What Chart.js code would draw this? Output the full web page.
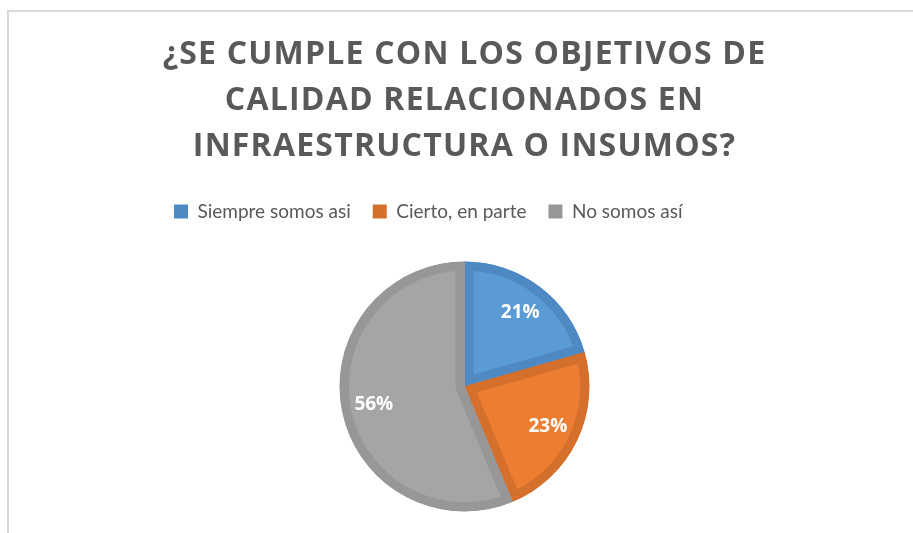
<!DOCTYPE html>
<html>
<head>
<meta charset="utf-8">
<script src="https://cdn.jsdelivr.net/npm/chart.js@4"></script>
<style>
  html, body { margin: 0; padding: 0; background: #fff; }
  #wrap { width: 913px; height: 533px; position: relative; }
</style>
</head>
<body>
<div id="wrap"><canvas id="c" width="913" height="533"></canvas></div>
<script>
// ---- data ----
const titleLines = ['¿SE CUMPLE CON LOS OBJETIVOS DE', 'CALIDAD RELACIONADOS EN', 'INFRAESTRUCTURA O INSUMOS?'];
const categories = ['Siempre somos asi', 'Cierto, en parte', 'No somos así'];
const shares = [20.6, 23.1, 56.3];

const fillColors = ['#5b9bd5', '#ed7d31', '#a5a5a5'];
const edgeColors = ['#4f89c4', '#d4702c', '#979797'];

// white page + the light frame of the chart box
const frame = {
  id: 'frame',
  beforeDraw(chart) {
    const ctx = chart.ctx;
    ctx.save();
    ctx.fillStyle = '#fff';
    ctx.fillRect(0, 0, chart.width, chart.height);
    ctx.fillStyle = '#d9d9d9';
    ctx.fillRect(7, 10, chart.width - 7, 2);
    ctx.fillRect(7, 10, 2, chart.height - 10);
    ctx.restore();
  }
};

// legend sits left of centre and a bit higher in the original,
// and the title is letter-spaced
const tweaks = {
  id: 'tweaks',
  afterLayout(chart) {
    const lg = chart.legend;
    const dx = 174 - lg.options.labels.padding - lg.left;
    lg.left += dx;
    lg.right += dx;
    lg.top -= 17;
    lg.bottom -= 17;

    const tb = chart.titleBlock;
    if (!tb._spaced) {
      const orig = tb.draw.bind(tb);
      tb.draw = function () {
        const ctx = chart.ctx;
        ctx.letterSpacing = '1.2px';
        orig();
        ctx.letterSpacing = '0px';
      };
      tb._spaced = true;
    }
  }
};

// percent labels inside slices
const sliceLabels = {
  id: 'sliceLabels',
  afterDatasetsDraw(chart) {
    const ctx = chart.ctx;
    const meta = chart.getDatasetMeta(0);
    const total = shares.reduce((a, b) => a + b, 0);
    ctx.save();
    ctx.fillStyle = '#fff';
    ctx.font = 'bold 19px "Open Sans"';
    ctx.textAlign = 'center';
    ctx.textBaseline = 'middle';
    meta.data.forEach((arc, i) => {
      const p = arc.getProps(['x', 'y', 'startAngle', 'endAngle', 'outerRadius'], true);
      const mid = (p.startAngle + p.endAngle) / 2;
      const r = p.outerRadius * 0.74;
      const txt = Math.round(shares[i] / total * 100) + '%';
      ctx.fillText(txt, p.x + Math.cos(mid) * r, p.y + Math.sin(mid) * r);
    });
    ctx.restore();
  }
};

new Chart(document.getElementById('c'), {
  type: 'pie',
  data: {
    labels: categories,
    datasets: [{
      data: shares,
      backgroundColor: fillColors,
      borderColor: edgeColors,
      borderWidth: 9,
      borderAlign: 'inner',
      radius: 125,
    }],
  },
  options: {
    responsive: false,
    animation: false,
    layout: { padding: { left: 16, top: 0, right: 0, bottom: 8 } },
    plugins: {
      title: {
        display: true,
        text: titleLines,
        color: '#595959',
        font: { family: 'Open Sans', size: 32, weight: 'bold', lineHeight: 46 / 32 },
        padding: { top: 32, bottom: 27 },
      },
      legend: {
        display: true,
        position: 'top',
        align: 'start',
        labels: {
          color: '#595959',
          font: { family: 'Lato', size: 19 },
          boxWidth: 14,
          boxHeight: 14,
          padding: 22,
          generateLabels(chart) {
            return Chart.overrides.pie.plugins.legend.labels.generateLabels(chart)
              .map(l => ({ ...l, fillStyle: edgeColors[l.index], lineWidth: 0 }));
          },
        },
      },
      tooltip: { enabled: false },
    },
  },
  plugins: [frame, tweaks, sliceLabels],
});
</script>
</body>
</html>
